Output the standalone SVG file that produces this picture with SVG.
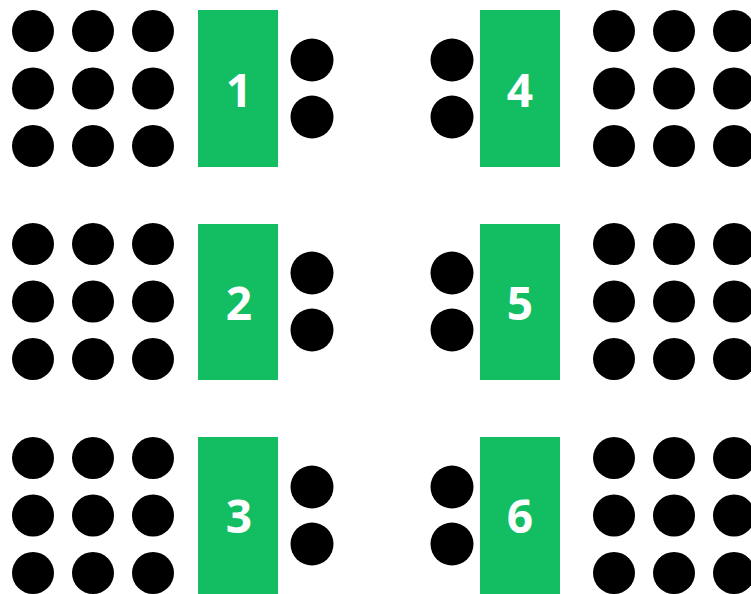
<svg xmlns="http://www.w3.org/2000/svg" width="751" height="594" viewBox="0 0 751 594">
<style>
.t{fill:#13BE63}
.n{fill:#FFFFFF;font-family:"Open Sans","Liberation Sans",sans-serif;font-weight:bold;font-size:46px;text-anchor:middle}
circle{fill:#000}
</style>
<defs>
<g id="grid">
<circle cx="0" cy="0" r="21"/><circle cx="60" cy="0" r="21"/><circle cx="120" cy="0" r="21"/>
<circle cx="0" cy="57.5" r="21"/><circle cx="60" cy="57.5" r="21"/><circle cx="120" cy="57.5" r="21"/>
<circle cx="0" cy="115" r="21"/><circle cx="60" cy="115" r="21"/><circle cx="120" cy="115" r="21"/>
</g>
<g id="pair">
<circle cx="0" cy="0" r="21.5"/><circle cx="0" cy="57" r="21.5"/>
</g>
</defs>
<rect width="751" height="594" fill="#FFFFFF"/>
<g id="node1">
<use href="#grid" x="33" y="31"/>
<rect class="t" x="198" y="10" width="80" height="157"/>
<text class="n" x="239" y="107">1</text>
<use href="#pair" x="312" y="60"/>
</g>
<g id="node2">
<use href="#grid" x="33" y="244"/>
<rect class="t" x="198" y="224" width="80" height="156"/>
<text class="n" x="239" y="320">2</text>
<use href="#pair" x="312" y="273"/>
</g>
<g id="node3">
<use href="#grid" x="33" y="458"/>
<rect class="t" x="198" y="437" width="80" height="157"/>
<text class="n" x="239" y="533">3</text>
<use href="#pair" x="312" y="487"/>
</g>
<g id="node4">
<use href="#pair" x="452" y="60"/>
<rect class="t" x="480" y="10" width="80" height="157"/>
<text class="n" x="520" y="107">4</text>
<use href="#grid" x="614" y="31"/>
</g>
<g id="node5">
<use href="#pair" x="452" y="273"/>
<rect class="t" x="480" y="224" width="80" height="156"/>
<text class="n" x="520" y="320">5</text>
<use href="#grid" x="614" y="244"/>
</g>
<g id="node6">
<use href="#pair" x="452" y="487"/>
<rect class="t" x="480" y="437" width="80" height="157"/>
<text class="n" x="520" y="533">6</text>
<use href="#grid" x="614" y="458"/>
</g>
<g id="connectors"/>
</svg>
